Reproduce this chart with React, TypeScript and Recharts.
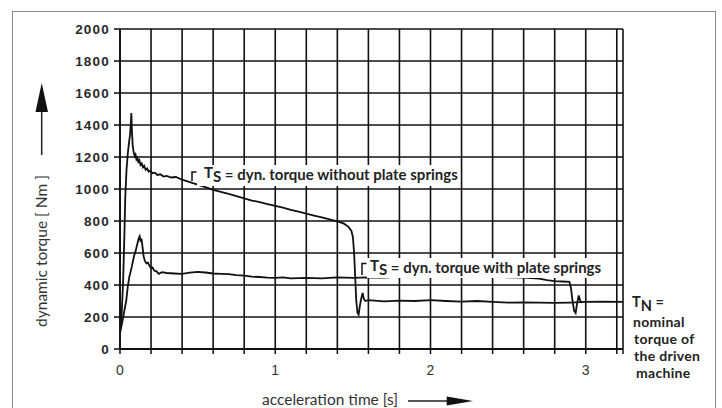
import React from 'react';
import { LineChart, Line, XAxis, YAxis, CartesianGrid } from 'recharts';

// acceleration time [s] / dynamic torque [Nm]
const withoutSpringsTime = [
  0, 0.01, 0.02, 0.028, 0.034, 0.042, 0.05, 0.058, 0.065, 0.07, 0.073, 0.077, 0.082, 0.088, 0.095,
  0.1, 0.106, 0.112, 0.118, 0.125, 0.132, 0.14, 0.148, 0.156, 0.165, 0.175, 0.185, 0.195, 0.21,
  0.225, 0.24, 0.26, 0.28, 0.3, 0.33, 0.36, 0.4, 0.45, 0.5, 0.55, 0.6, 0.65, 0.7, 0.75, 0.8, 0.85,
  0.9, 0.95, 1.0, 1.05, 1.1, 1.15, 1.2, 1.25, 1.3, 1.35, 1.4, 1.44, 1.47, 1.49, 1.5, 1.508, 1.515,
  1.522, 1.53, 1.537, 1.545, 1.555, 1.563, 1.57, 1.58, 1.6, 1.7, 1.8, 1.9, 2.0, 2.1, 2.2, 2.3, 2.4,
  2.5, 2.6, 2.7, 2.8, 2.9, 3.0, 3.1, 3.24,
];
const withoutSpringsTorque = [
  110, 200, 420, 700, 950, 1120, 1220, 1290, 1340, 1420, 1475, 1360, 1270, 1230, 1205,
  1215, 1185, 1195, 1170, 1180, 1150, 1160, 1135, 1145, 1120, 1128, 1108, 1115, 1098,
  1102, 1088, 1092, 1078, 1082, 1072, 1075, 1058, 1043, 1028, 1012, 995, 982, 970, 956, 942, 928,
  918, 906, 895, 883, 870, 858, 846, 834, 822, 810, 798, 785, 765, 740, 700, 600, 450,
  300, 225, 215, 270, 320, 350, 315, 300, 305, 298, 302, 300, 305, 300, 296, 300, 295,
  290, 292, 290, 288, 290, 294, 296, 294,
];

const withSpringsTime = [
  0, 0.015, 0.03, 0.04, 0.05, 0.06, 0.075, 0.09, 0.1, 0.11, 0.12, 0.127, 0.133, 0.138, 0.145,
  0.152, 0.16, 0.17, 0.18, 0.19, 0.2, 0.21, 0.22, 0.235, 0.25, 0.27, 0.3, 0.35, 0.4, 0.45, 0.5,
  0.55, 0.6, 0.65, 0.7, 0.75, 0.8, 0.85, 0.9, 0.95, 1.0, 1.05, 1.1, 1.2, 1.3, 1.4, 1.5, 1.6, 1.7,
  1.8, 1.9, 1.95, 2.0, 2.05, 2.1, 2.15, 2.2, 2.3, 2.4, 2.5, 2.6, 2.7, 2.75, 2.8, 2.85, 2.895,
  2.905, 2.915, 2.925, 2.935, 2.945, 2.955, 2.965, 2.975,
];
const withSpringsTorque = [
  100, 170, 250, 300, 390, 450, 510, 580, 610, 650, 690, 705, 670, 690, 640,
  580, 550, 535, 540, 520, 505, 510, 490, 485, 470, 480, 475, 472, 470, 478, 482,
  478, 472, 470, 468, 462, 458, 452, 450, 446, 445, 448, 442, 444, 442, 448, 444, 448, 446,
  452, 455, 460, 466, 468, 460, 452, 455, 450, 452, 448, 446, 440, 430, 424, 422, 420,
  380, 300, 240, 225, 290, 335, 300, 290,
];

const xTicks = [0, 0.2, 0.4, 0.6, 0.8, 1, 1.2, 1.4, 1.6, 1.8, 2, 2.2, 2.4, 2.6, 2.8, 3, 3.2, 3.24];
const xTickLabels: Record<number, string> = { 0: '0', 1: '1', 2: '2', 3: '3' };
const yTicks = [0, 200, 400, 600, 800, 1000, 1200, 1400, 1600, 1800, 2000];

const withoutSprings = withoutSpringsTime.map((t, i) => ({ t, v: withoutSpringsTorque[i] }));
const withSprings = withSpringsTime.map((t, i) => ({ t, v: withSpringsTorque[i] }));

const INK = '#111';
const labelFont = 'Lato, "Open Sans", sans-serif';
const tickFont = '"Liberation Sans", Arial, sans-serif';

export default function App() {
  return (
    <div style={{ position: 'absolute', left: 0, top: 0, width: 722, height: 408, background: '#fff', overflow: 'hidden' }}>
      <div
        style={{
          position: 'absolute',
          left: 12,
          top: 11,
          width: 702,
          height: 397,
          borderTop: '1.5px solid #8a8a8a',
          borderLeft: '1.5px solid #8a8a8a',
          borderRight: '1.5px solid #8a8a8a',
        }}
      />
      <div style={{ position: 'absolute', left: 0, top: 0 }}>
        <LineChart width={722} height={408} margin={{ top: 29, right: 99, left: 60, bottom: 29 }}>
          <CartesianGrid stroke={INK} strokeWidth={1.6} />
          <XAxis
            dataKey="t"
            type="number"
            domain={[0, 3.24]}
            ticks={xTicks}
            allowDataOverflow
            interval={0}
            tickFormatter={(v: number) => xTickLabels[v] ?? ''}
            tickSize={5}
            tickMargin={11}
            height={30}
            axisLine={{ stroke: INK, strokeWidth: 1.8 }}
            tickLine={{ stroke: INK, strokeWidth: 1.5 }}
            tick={{ fontSize: 14, fill: '#333', fontFamily: tickFont }}
          />
          <YAxis
            type="number"
            domain={[0, 2000]}
            ticks={yTicks}
            interval={0}
            width={60}
            tickSize={6}
            tickMargin={4}
            axisLine={{ stroke: INK, strokeWidth: 1.8 }}
            tickLine={{ stroke: INK, strokeWidth: 1.5 }}
            tick={{ fontSize: 13.5, fill: '#2a2a2a', fontFamily: tickFont, fontWeight: 700, letterSpacing: 1.2 }}
          />
          <Line
            data={withoutSprings}
            dataKey="v"
            type="linear"
            stroke={INK}
            strokeWidth={1.8}
            dot={false}
            isAnimationActive={false}
          />
          <Line
            data={withSprings}
            dataKey="v"
            type="linear"
            stroke={INK}
            strokeWidth={1.8}
            dot={false}
            isAnimationActive={false}
          />
        </LineChart>
      </div>
      <svg width={722} height={408} style={{ position: 'absolute', left: 0, top: 0 }}>
        {/* y axis title with arrow */}
        <line x1={41.7} y1={155} x2={41.7} y2={108} stroke="#222" strokeWidth={1.5} />
        <polygon points="35.5,112 41.7,83 48,112" fill="#111" />
        <text
          x={47}
          y={251}
          transform="rotate(-90 47 251)"
          textAnchor="middle"
          fontSize={15.5}
          fontFamily={labelFont}
          fill="#333"
        >
          dynamic torque  [ Nm ]
        </text>

        {/* x axis title with arrow */}
        <text x={262} y={405} fontSize={15.5} fontFamily={labelFont} fill="#333">
          acceleration time  [s]
        </text>
        <line x1={408} y1={401} x2={450} y2={401} stroke="#222" strokeWidth={1.5} />
        <polygon points="446.7,396.5 473,401 446.7,405.5" fill="#111" />

        {/* annotation: without plate springs */}
        <rect x={197} y={165} width={262} height={21} fill="#fff" />
        <path d="M196.5,172 L192,172 L192,181" fill="none" stroke={INK} strokeWidth={1.5} />
        <text x={204} y={180} fontSize={15} fontFamily={labelFont} fontWeight={700} fill="#222">
          <tspan dy={-2}>T</tspan>
          <tspan dy={4}>S</tspan>
          <tspan dy={-2}> = dyn. torque without plate springs</tspan>
        </text>

        {/* annotation: with plate springs */}
        <rect x={367} y={258} width={234} height={20} fill="#fff" />
        <path d="M366.5,263.5 L362,263.5 L362,275" fill="none" stroke={INK} strokeWidth={1.5} />
        <text x={370} y={273} fontSize={15} fontFamily={labelFont} fontWeight={700} fill="#222">
          <tspan dy={-2}>T</tspan>
          <tspan dy={4}>S</tspan>
          <tspan dy={-2}> = dyn. torque with plate springs</tspan>
        </text>

        {/* nominal torque note */}
        <text x={632} y={307} fontSize={14.5} fontFamily={labelFont} fontWeight={700} fill="#222">
          <tspan>T</tspan>
          <tspan dy={4}>N</tspan>
          <tspan dy={-4}> =</tspan>
        </text>
        <text x={633} y={327} fontSize={14} letterSpacing={0.3} fontFamily={labelFont} fontWeight={700} fill="#222">
          nominal
        </text>
        <text x={634} y={344} fontSize={14} letterSpacing={0.3} fontFamily={labelFont} fontWeight={700} fill="#222">
          torque of
        </text>
        <text x={634} y={361} fontSize={14} letterSpacing={0.3} fontFamily={labelFont} fontWeight={700} fill="#222">
          the driven
        </text>
        <text x={636} y={378} fontSize={14} letterSpacing={0.3} fontFamily={labelFont} fontWeight={700} fill="#222">
          machine
        </text>
      </svg>
    </div>
  );
}
